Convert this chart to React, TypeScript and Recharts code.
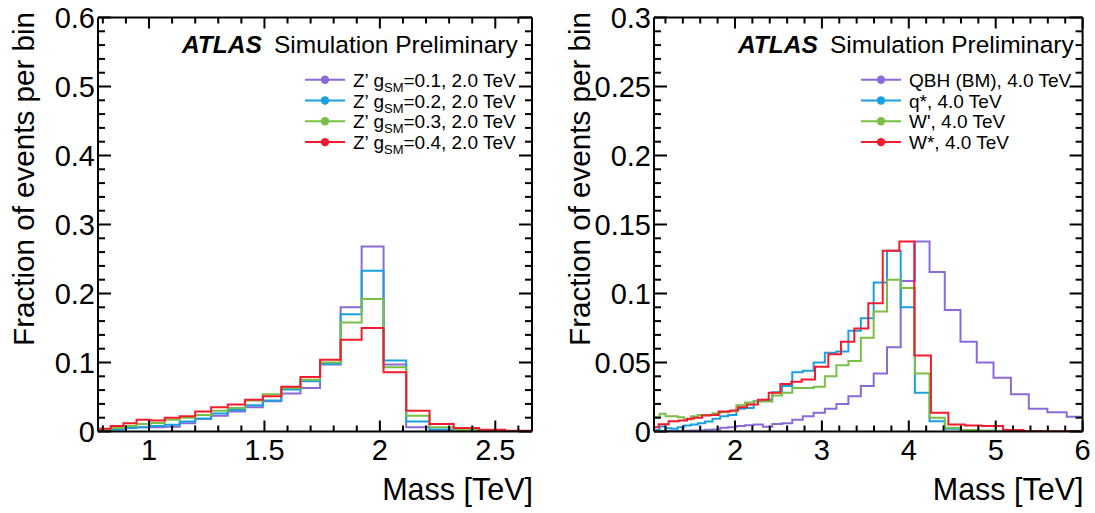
import React from 'react';
import { LineChart, Line, XAxis, YAxis } from 'recharts';

const FONT = '"Liberation Sans", Arial, Helvetica, sans-serif';
const INK = '#000';

const VIOLET = '#8b6ad8';
const AZURE = '#1ba0df';
const GREEN = '#79bf46';
const RED = '#f41b2e';

// Z' -> dijet, 2.0 TeV, four couplings (bin edges in TeV)
const zEdges = [
  0.779, 0.834, 0.889, 0.946, 1.006, 1.068, 1.133, 1.2, 1.269, 1.341, 1.416, 1.493,
  1.573, 1.656, 1.741, 1.83, 1.921, 2.016, 2.114, 2.215, 2.32, 2.429, 2.542, 2.659,
];
const zG01 = [
  0.0015, 0.003, 0.005, 0.006, 0.006, 0.007, 0.012, 0.018, 0.023, 0.029, 0.035, 0.044,
  0.055, 0.063, 0.097, 0.18, 0.268, 0.097, 0.006, 0.0015, 0.0008, 0.0005, 0.0003,
];
const zG02 = [
  0.0015, 0.003, 0.005, 0.006, 0.008, 0.0097, 0.0145, 0.019, 0.026, 0.031, 0.038, 0.045,
  0.061, 0.073, 0.098, 0.17, 0.233, 0.103, 0.0145, 0.003, 0.001, 0.0005, 0.0003,
];
const zG03 = [
  0.0024, 0.005, 0.008, 0.011, 0.0125, 0.017, 0.02, 0.024, 0.03, 0.034, 0.045, 0.054,
  0.063, 0.075, 0.1, 0.158, 0.192, 0.093, 0.023, 0.006, 0.0025, 0.001, 0.0005,
];
const zG04 = [
  0.004, 0.008, 0.012, 0.017, 0.016, 0.02, 0.022, 0.029, 0.035, 0.039, 0.046, 0.051,
  0.065, 0.079, 0.104, 0.133, 0.15, 0.086, 0.03, 0.011, 0.005, 0.0025, 0.001,
];
const zCouplings = ['0.1', '0.2', '0.3', '0.4'];

// 4.0 TeV benchmark signals; W* was binned differently
const sigEdges = [
  1.068, 1.133, 1.2, 1.269, 1.341, 1.416, 1.493, 1.573, 1.656, 1.741, 1.83, 1.921, 2.016,
  2.114, 2.215, 2.32, 2.429, 2.542, 2.659, 2.78, 2.905, 3.034, 3.167, 3.305, 3.448, 3.596,
  3.749, 3.907, 4.07, 4.239, 4.414, 4.595, 4.782, 4.975, 5.175, 5.381, 5.595, 5.817, 6.047,
];
const qbh = [
  0.0002, 0.0002, 0.0003, 0.0003, 0.0004, 0.0005, 0.0007, 0.0008, 0.0012, 0.0015, 0.0027,
  0.003, 0.004, 0.0045, 0.005, 0.0035, 0.0055, 0.006, 0.0085, 0.011, 0.0135, 0.0164, 0.02,
  0.0256, 0.033, 0.042, 0.061, 0.109, 0.1377, 0.1155, 0.088, 0.065, 0.05, 0.039, 0.027,
  0.0164, 0.014, 0.0106,
];
const qStar = [
  0.001, 0.0036, 0.0024, 0.002, 0.003, 0.0043, 0.005, 0.006, 0.0072, 0.0092, 0.011, 0.012,
  0.0164, 0.017, 0.022, 0.023, 0.0285, 0.033, 0.043, 0.044, 0.05, 0.057, 0.058, 0.073,
  0.082, 0.108, 0.131, 0.09, 0.028, 0.0075, 0.002, 0.001, 0.0005, 0.0003, 0.0002, 0.0001,
  0.0001, 0.0001,
];
const wPrime = [
  0.0104, 0.0128, 0.011, 0.011, 0.0104, 0.0087, 0.011, 0.012, 0.012, 0.0133, 0.014, 0.0147,
  0.019, 0.021, 0.0217, 0.0217, 0.026, 0.028, 0.0316, 0.0316, 0.0324, 0.04, 0.048, 0.051,
  0.068, 0.087, 0.11, 0.104, 0.042, 0.01, 0.0027, 0.001, 0.0005, 0.0003, 0.0002, 0.0001,
  0.0001, 0,
];
const wStarEdges = [
  1.068, 1.122, 1.237, 1.352, 1.448, 1.525, 1.62, 1.716, 1.812, 1.946, 2.035, 2.138, 2.265,
  2.388, 2.522, 2.648, 2.767, 2.921, 3.074, 3.22, 3.373, 3.534, 3.7, 3.891, 4.063, 4.255,
  4.455, 4.647, 4.835, 5.085, 5.318, 5.55, 5.78, 6.0,
];
const wStar = [
  0.0031, 0.0053, 0.0075, 0.008, 0.0092, 0.0099, 0.0116, 0.012, 0.0145, 0.0152, 0.0176,
  0.0196, 0.023, 0.028, 0.0345, 0.036, 0.0377, 0.047, 0.056, 0.065, 0.0746, 0.093, 0.131,
  0.1377, 0.055, 0.0135, 0.005, 0.0043, 0.004, 0.001, 0.0003, 0.0002, 0.0001,
];

// axis ticks
const zXTicks = [0.8, 0.9, 1, 1.1, 1.2, 1.3, 1.4, 1.5, 1.6, 1.7, 1.8, 1.9, 2, 2.1, 2.2, 2.3, 2.4, 2.5, 2.6];
const zXMajor = [1, 1.5, 2, 2.5];
const zYTicks = [
  0, 0.02, 0.04, 0.06, 0.08, 0.1, 0.12, 0.14, 0.16, 0.18, 0.2, 0.22, 0.24, 0.26, 0.28, 0.3,
  0.32, 0.34, 0.36, 0.38, 0.4, 0.42, 0.44, 0.46, 0.48, 0.5, 0.52, 0.54, 0.56, 0.58, 0.6,
];
const zYMajor = [0, 0.1, 0.2, 0.3, 0.4, 0.5, 0.6];
const sXTicks = [
  1.2, 1.4, 1.6, 1.8, 2, 2.2, 2.4, 2.6, 2.8, 3, 3.2, 3.4, 3.6, 3.8, 4, 4.2, 4.4, 4.6, 4.8, 5,
  5.2, 5.4, 5.6, 5.8, 6,
];
const sXMajor = [2, 3, 4, 5, 6];
const sYTicks = [
  0, 0.01, 0.02, 0.03, 0.04, 0.05, 0.06, 0.07, 0.08, 0.09, 0.1, 0.11, 0.12, 0.13, 0.14, 0.15,
  0.16, 0.17, 0.18, 0.19, 0.2, 0.21, 0.22, 0.23, 0.24, 0.25, 0.26, 0.27, 0.28, 0.29, 0.3,
];
const sYMajor = [0, 0.05, 0.1, 0.15, 0.2, 0.25, 0.3];

const H = 513;
const PLOT_LEFT = 98;
const PLOT_TOP = 17.5;
const PLOT_BOTTOM = 431.5;
// space handed to the axes themselves; the rest of the gap is chart margin
const BOTTOM_AXIS_H = 40;
const TOP_AXIS_H = 10;
const LEFT_AXIS_W = 60;
const RIGHT_AXIS_W = 8;

const toSteps = (edges: number[], values: number[]) =>
  edges.map((x, i) => ({ x, y: values[Math.min(i, values.length - 1)] }));

const isMajor = (v: number, majors: number[]) => majors.some((m) => Math.abs(m - v) < 1e-9);

const TICK_FONT = 29;

// ROOT-style ticks point into the frame
const bottomTick = (majors: number[]) => (p: any) => {
  const v = p.payload.value;
  const major = isMajor(v, majors);
  return (
    <g>
      <line x1={p.x} y1={p.y} x2={p.x} y2={p.y - (major ? 11 : 6)} stroke={INK} strokeWidth={2} />
      {major && (
        <text x={p.x} y={p.y + 28} textAnchor="middle" fontSize={TICK_FONT} fontFamily={FONT} fill={INK}>
          {String(v)}
        </text>
      )}
    </g>
  );
};

const topTick = (majors: number[]) => (p: any) => {
  const major = isMajor(p.payload.value, majors);
  return <line x1={p.x} y1={p.y} x2={p.x} y2={p.y + (major ? 11 : 6)} stroke={INK} strokeWidth={2} />;
};

const leftTick = (majors: number[]) => (p: any) => {
  const v = p.payload.value;
  const major = isMajor(v, majors);
  return (
    <g>
      <line x1={p.x} y1={p.y} x2={p.x + (major ? 13 : 7)} y2={p.y} stroke={INK} strokeWidth={2} />
      {major && (
        <text x={p.x - 3} y={p.y} dy="0.36em" textAnchor="end" fontSize={TICK_FONT} fontFamily={FONT} fill={INK}>
          {String(v)}
        </text>
      )}
    </g>
  );
};

const rightTick = (majors: number[]) => (p: any) => {
  const major = isMajor(p.payload.value, majors);
  return <line x1={p.x} y1={p.y} x2={p.x - (major ? 13 : 7)} y2={p.y} stroke={INK} strokeWidth={2} />;
};

interface Series {
  label: React.ReactNode;
  color: string;
  edges: number[];
  values: number[];
}

interface PanelProps {
  width: number;
  plotRight: number;
  xDomain: [number, number];
  yMax: number;
  xTicks: number[];
  xMajor: number[];
  yTicks: number[];
  yMajor: number[];
  series: Series[];
}

function Decorations({ plotRight, series }: { plotRight: number; series: Series[] }) {
  return (
    <g fontFamily={FONT} fill={INK}>
      <text transform={`translate(${PLOT_LEFT - 64},12) rotate(-90)`} textAnchor="end" fontSize={29.6}>
        Fraction of events per bin
      </text>
      <text x={plotRight + 1} y={500} textAnchor="end" fontSize={30.5}>
        Mass [TeV]
      </text>
      <text x={182} y={53} fontSize={24.5} fontWeight="bold" fontStyle="italic">
        ATLAS
      </text>
      <text x={274} y={53} fontSize={24.5}>
        Simulation Preliminary
      </text>
      {series.map((s, i) => {
        const cy = 79.7 + i * 20.8;
        return (
          <g key={i}>
            <line x1={305} x2={345} y1={cy} y2={cy} stroke={s.color} strokeWidth={2} />
            <circle cx={325} cy={cy} r={4.2} fill={s.color} />
            <text x={353} y={cy + 7} fontSize={19}>
              {s.label}
            </text>
          </g>
        );
      })}
    </g>
  );
}

function Panel({ width, plotRight, xDomain, yMax, xTicks, xMajor, yTicks, yMajor, series }: PanelProps) {
  const margin = {
    top: PLOT_TOP - TOP_AXIS_H,
    right: width - plotRight - RIGHT_AXIS_W,
    bottom: H - PLOT_BOTTOM - BOTTOM_AXIS_H,
    left: PLOT_LEFT - LEFT_AXIS_W,
  };
  const axisLine = { stroke: INK, strokeWidth: 2 };
  return (
    <LineChart width={width} height={H} margin={margin}>
      <XAxis
        dataKey="x"
        type="number"
        domain={xDomain}
        allowDataOverflow
        ticks={xTicks}
        interval={0}
        height={BOTTOM_AXIS_H}
        tickSize={0}
        tickMargin={0}
        tickLine={false}
        axisLine={axisLine}
        tick={bottomTick(xMajor)}
      />
      <XAxis
        xAxisId="top"
        orientation="top"
        dataKey="x"
        type="number"
        domain={xDomain}
        allowDataOverflow
        ticks={xTicks}
        interval={0}
        height={TOP_AXIS_H}
        tickSize={0}
        tickMargin={0}
        tickLine={false}
        axisLine={axisLine}
        tick={topTick(xMajor)}
      />
      <YAxis
        type="number"
        domain={[0, yMax]}
        allowDataOverflow
        ticks={yTicks}
        interval={0}
        width={LEFT_AXIS_W}
        tickSize={0}
        tickMargin={0}
        tickLine={false}
        axisLine={axisLine}
        tick={leftTick(yMajor)}
      />
      <YAxis
        yAxisId="right"
        orientation="right"
        type="number"
        domain={[0, yMax]}
        allowDataOverflow
        ticks={yTicks}
        interval={0}
        width={RIGHT_AXIS_W}
        tickSize={0}
        tickMargin={0}
        tickLine={false}
        axisLine={axisLine}
        tick={rightTick(yMajor)}
      />
      {series.map((s, i) => (
        <Line
          key={i}
          data={toSteps(s.edges, s.values)}
          dataKey="y"
          type="stepAfter"
          stroke={s.color}
          strokeWidth={2}
          dot={false}
          activeDot={false}
          isAnimationActive={false}
        />
      ))}
      <Decorations plotRight={plotRight} series={series} />
    </LineChart>
  );
}

const zLabel = (g: string) => (
  <>
    {'Z\u2019 g'}
    <tspan fontSize={13} dy={5}>
      SM
    </tspan>
    <tspan dy={-5}>{`=${g}, 2.0 TeV`}</tspan>
  </>
);

const zSeries: Series[] = [
  { label: zLabel(zCouplings[0]), color: VIOLET, edges: zEdges, values: zG01 },
  { label: zLabel(zCouplings[1]), color: AZURE, edges: zEdges, values: zG02 },
  { label: zLabel(zCouplings[2]), color: GREEN, edges: zEdges, values: zG03 },
  { label: zLabel(zCouplings[3]), color: RED, edges: zEdges, values: zG04 },
];

const sigSeries: Series[] = [
  { label: 'QBH (BM), 4.0 TeV', color: VIOLET, edges: sigEdges, values: qbh },
  { label: 'q*, 4.0 TeV', color: AZURE, edges: sigEdges, values: qStar },
  { label: "W', 4.0 TeV", color: GREEN, edges: sigEdges, values: wPrime },
  { label: 'W*, 4.0 TeV', color: RED, edges: wStarEdges, values: wStar },
];

export default function App() {
  return (
    <div style={{ position: 'absolute', left: 0, top: 0, width: 1095, height: H, background: '#fff' }}>
      <div style={{ position: 'absolute', left: 0, top: 0 }}>
        <Panel
          width={545}
          plotRight={532}
          xDomain={[0.779, 2.659]}
          yMax={0.6}
          xTicks={zXTicks}
          xMajor={zXMajor}
          yTicks={zYTicks}
          yMajor={zYMajor}
          series={zSeries}
        />
      </div>
      <div style={{ position: 'absolute', left: 556, top: 0 }}>
        <Panel
          width={539}
          plotRight={526.6}
          xDomain={[1.068, 6.0]}
          yMax={0.3}
          xTicks={sXTicks}
          xMajor={sXMajor}
          yTicks={sYTicks}
          yMajor={sYMajor}
          series={sigSeries}
        />
      </div>
    </div>
  );
}
